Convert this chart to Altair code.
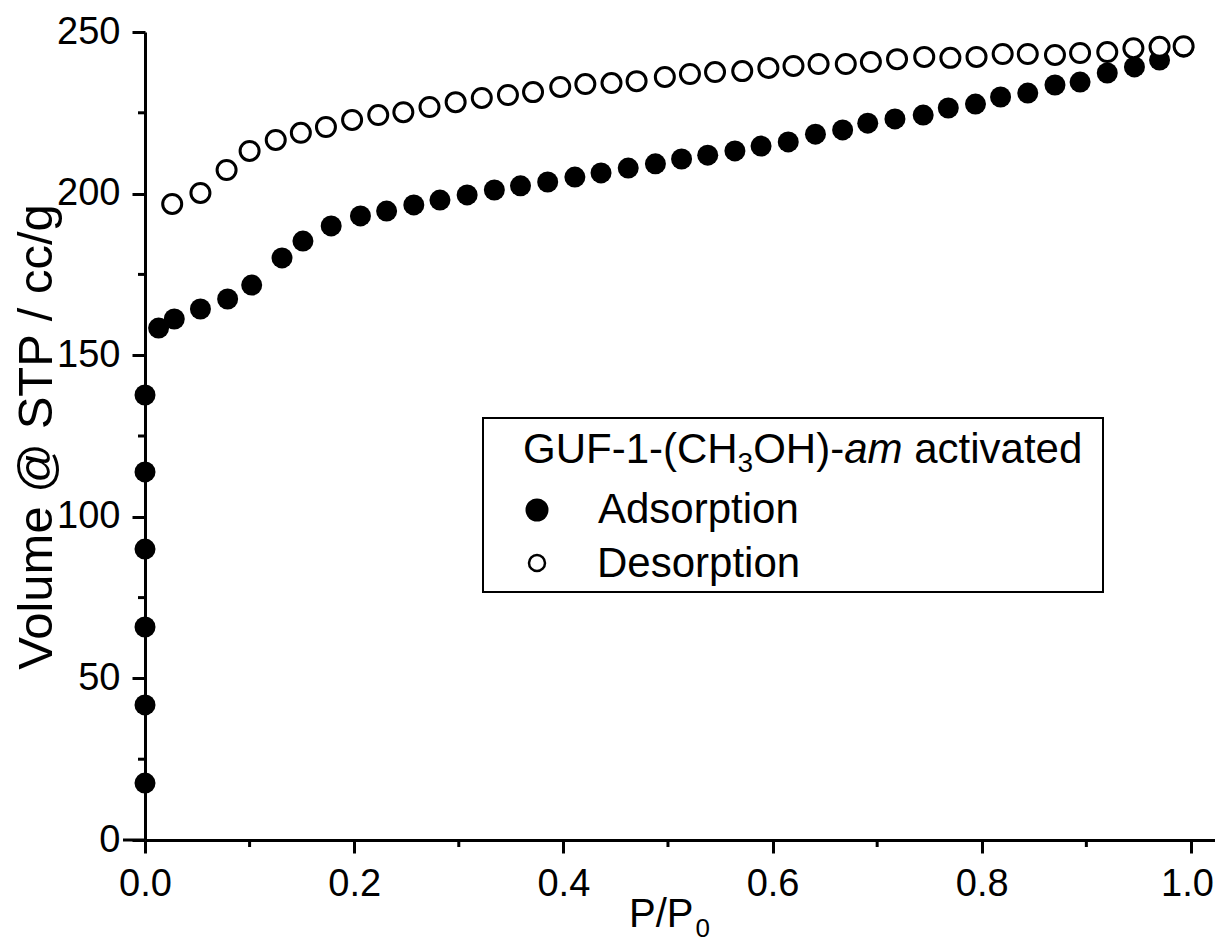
import altair as alt
import pandas as pd

# ---------------- data ----------------
ads_x = [0, 0, 0, 0, 0, 0, 0.013, 0.028, 0.053, 0.079, 0.102, 0.131, 0.151, 0.178, 0.206,
         0.231, 0.257, 0.282, 0.308, 0.334, 0.359, 0.385, 0.411, 0.436, 0.462, 0.488, 0.513,
         0.538, 0.564, 0.589, 0.615, 0.641, 0.667, 0.691, 0.717, 0.744, 0.768, 0.794, 0.818,
         0.844, 0.870, 0.894, 0.920, 0.946, 0.970, 0.993]
ads_y = [17.6, 41.8, 65.9, 90.0, 113.9, 137.7, 158.4, 161.2, 164.3, 167.4, 171.7, 180.1, 185.3,
         190.0, 193.1, 194.6, 196.5, 198.0, 199.6, 201.1, 202.4, 203.6, 205.1, 206.4, 207.9,
         209.2, 210.7, 211.9, 213.2, 214.7, 216.0, 218.4, 219.7, 221.8, 223.1, 224.3, 226.5,
         227.7, 229.9, 231.1, 233.6, 234.5, 237.3, 239.2, 241.3, 245.3]

des_x = [0.026, 0.053, 0.078, 0.100, 0.125, 0.149, 0.173, 0.198, 0.223, 0.247, 0.272, 0.297,
         0.322, 0.347, 0.371, 0.397, 0.421, 0.446, 0.470, 0.497, 0.521, 0.545, 0.571, 0.596,
         0.620, 0.644, 0.670, 0.694, 0.719, 0.745, 0.770, 0.795, 0.820, 0.844, 0.870, 0.894,
         0.920, 0.945, 0.970, 0.993]
des_y = [196.8, 200.2, 207.3, 213.2, 216.6, 218.8, 220.6, 222.8, 224.3, 225.2, 226.8, 228.3,
         229.6, 230.5, 231.4, 233.0, 233.9, 234.2, 234.8, 236.1, 237.0, 237.6, 237.9, 238.9,
         239.5, 240.1, 240.1, 240.7, 241.6, 242.3, 242.0, 242.3, 243.2, 243.2, 242.9, 243.5,
         243.8, 245.0, 245.4, 245.6]

x_ticks = [0.0, 0.2, 0.4, 0.6, 0.8, 1.0]
x_minor = [0.1, 0.3, 0.5, 0.7, 0.9]
y_ticks = [0, 50, 100, 150, 200, 250]
y_minor = [25, 75, 125, 175, 225]

x_title_main = "P/P"
x_title_sub = "0"
y_title = "Volume @ STP / cc/g"
legend_title_parts = ["GUF-1-(CH", "3", "OH)-", "am", "activated"]
series_names = ["Adsorption", "Desorption"]

FONT = "Liberation Sans"
W, H = 1070, 808
X_DOMAIN = [0, 1.023]
Y_DOMAIN = [0, 250]

# Arial advance widths (per 1000 em) for laying out the mixed-style legend title
ARIAL = {'G': 778, 'U': 722, 'F': 611, '-': 333, '1': 556, '(': 333, ')': 333, 'C': 722,
         'H': 722, '3': 556, 'O': 778, 'a': 556, 'm': 833, ' ': 278, 'c': 500, 't': 278,
         'i': 222, 'v': 500, 'e': 556, 'd': 556, 'P': 667, '/': 278}


def tw(s, fs):
    return sum(ARIAL[c] for c in s) / 1000.0 * fs


ads = pd.DataFrame({"x": ads_x, "y": ads_y})
des = pd.DataFrame({"x": des_x, "y": des_y})

xs = alt.Scale(domain=X_DOMAIN, nice=False, zero=False)
ys = alt.Scale(domain=Y_DOMAIN, nice=False)

x_axis = alt.Axis(values=x_ticks, format=".1f", title=None, grid=False,
                  domainColor="black", domainWidth=3, tickColor="black", tickWidth=3,
                  tickSize=13, labelFont=FONT, labelFontSize=38, labelColor="black",
                  labelPadding=12, labelFlush=False, labelOverlap=False,
                  labelOffset={"condition": {"test": "datum.value >= 0.99", "value": -4},
                               "value": 0})
y_axis = alt.Axis(values=y_ticks, title=None, grid=False,
                  domainColor="black", domainWidth=3, tickColor="black", tickWidth=3,
                  tickSize=13, labelFont=FONT, labelFontSize=38, labelColor="black",
                  labelPadding=12, labelFlush=False, labelOverlap=False)

ads_layer = alt.Chart(ads).mark_point(shape="circle", filled=True, fill="black",
                                      stroke="black", strokeWidth=0, size=441, opacity=1).encode(
    x=alt.X("x:Q", scale=xs, axis=x_axis),
    y=alt.Y("y:Q", scale=ys, axis=y_axis),
)
des_layer = alt.Chart(des).mark_point(shape="circle", filled=False, fill="white",
                                      stroke="black", strokeWidth=3, size=361, opacity=1).encode(
    x=alt.X("x:Q", scale=xs, axis=x_axis),
    y=alt.Y("y:Q", scale=ys, axis=y_axis),
)

xm = alt.Chart(pd.DataFrame({"x": x_minor})).mark_rule(color="black", strokeWidth=3).encode(
    x=alt.X("x:Q", scale=xs, axis=x_axis), y=alt.value(H), y2=alt.value(H + 7))
ym = alt.Chart(pd.DataFrame({"y": y_minor})).mark_rule(color="black", strokeWidth=3).encode(
    y=alt.Y("y:Q", scale=ys, axis=y_axis), x=alt.value(0), x2=alt.value(-7))
x_ext = alt.Chart(pd.DataFrame({"v": [0]})).mark_rule(color="black", strokeWidth=3).encode(
    x=alt.value(-22), x2=alt.value(0), y=alt.value(H))


def label(text, x, y, fs, **kw):
    return alt.Chart(pd.DataFrame({"t": [text]})).mark_text(
        font=FONT, fontSize=fs, color="black", align=kw.pop("align", "left"),
        baseline=kw.pop("baseline", "alphabetic"), **kw).encode(
        text="t:N", x=alt.value(x), y=alt.value(y))


# axis titles
xt1 = label(x_title_main, 484, 895, 40)
xt2 = label(x_title_sub, 484 + tw(x_title_main, 40) + 2, 905, 26)
yt = label(y_title, -93, 405, 49, align="center", angle=270)

# legend box
box = alt.Chart(pd.DataFrame({"v": [0]})).mark_rect(fill="white", stroke="black",
                                                     strokeWidth=2).encode(
    x=alt.value(338), x2=alt.value(958), y=alt.value(386), y2=alt.value(560))

LX, LB, LFS, SFS = 378, 431, 42, 28
p = legend_title_parts
lx1 = LX
lx2 = lx1 + tw(p[0], LFS)
lx3 = lx2 + tw(p[1], SFS)
lx4 = lx3 + tw(p[2], LFS)
lx5 = lx4 + tw(p[3], LFS) + tw(" ", LFS)
lt = [
    label(p[0], lx1, LB, LFS),
    label(p[1], lx2, LB + 9, SFS),
    label(p[2], lx3, LB, LFS),
    label(p[3], lx4, LB, LFS, fontStyle="italic"),
    label(p[4], lx5, LB, LFS),
]
sym1 = alt.Chart(pd.DataFrame({"v": [0]})).mark_point(shape="circle", filled=True, fill="black",
                                                     strokeWidth=0, size=529, opacity=1).encode(
    x=alt.value(392), y=alt.value(478))
sym2 = alt.Chart(pd.DataFrame({"v": [0]})).mark_point(shape="circle", filled=False, fill="white",
                                                     stroke="black", strokeWidth=2.5, size=256,
                                                     opacity=1).encode(
    x=alt.value(392), y=alt.value(531))
l1 = label(series_names[0], 453, 491, LFS)
l2 = label(series_names[1], 452, 545, LFS)

chart = alt.layer(
    ads_layer, des_layer, xm, ym, x_ext, xt1, xt2, yt, box, *lt, sym1, sym2, l1, l2
).properties(
    width=W, height=H,
    padding={"left": 137, "top": 24, "right": 0, "bottom": 104},
    autosize=alt.AutoSizeParams(type="none"),
    background="white",
).configure_view(stroke=None)

chart.save("out.html", embed_options={"renderer": "svg", "actions": False})
